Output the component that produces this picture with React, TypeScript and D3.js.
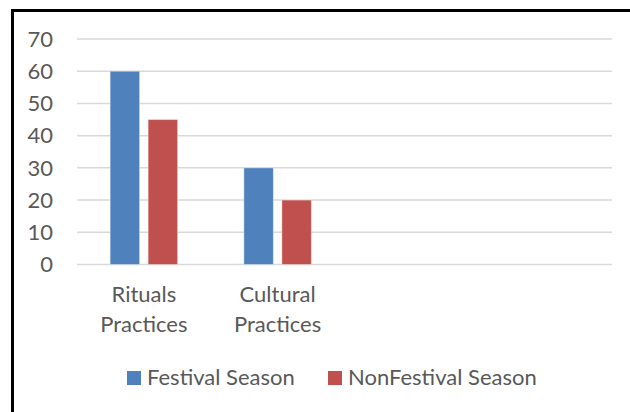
import { useEffect, useRef } from "react";
import * as d3 from "d3";

const categories = ["Rituals Practices", "Cultural Practices", "", ""];
const seriesNames = ["Festival Season", "NonFestival Season"];
const festival = [60, 30];
const nonFestival = [45, 20];
const yTicks = [0, 10, 20, 30, 40, 50, 60, 70];
const colors = ["#4F81BD", "#C0504D"];

const FONT = "Lato, 'Open Sans', sans-serif";
const FS = 22;

export default function App() {
  const ref = useRef<SVGSVGElement>(null);

  useEffect(() => {
    if (!ref.current) return;
    const svg = d3.select(ref.current);
    svg.selectAll("*").remove();

    const width = 630;
    const height = 412;

    svg.append("rect").attr("width", width).attr("height", height).attr("fill", "#fff");

    const x0 = d3.scaleBand<number>()
      .domain(d3.range(categories.length))
      .range([77, 612]);
    const x1 = d3.scaleBand<string>()
      .domain(seriesNames)
      .range([0, x0.bandwidth()])
      .paddingInner(0.2237)
      .paddingOuter(0.8717);
    const y = d3.scaleLinear().domain([0, 70]).range([264.5, 39]);

    // gridlines
    svg.append("g")
      .selectAll("line")
      .data(yTicks)
      .join("line")
      .attr("x1", 77)
      .attr("x2", 612)
      .attr("y1", (d) => y(d))
      .attr("y2", (d) => y(d))
      .attr("stroke", "#d9d9d9")
      .attr("stroke-width", 1.5);

    // y labels
    svg.append("g")
      .selectAll("text")
      .data(yTicks)
      .join("text")
      .attr("x", 53)
      .attr("y", (d) => y(d))
      .attr("dy", "0.35em")
      .attr("text-anchor", "end")
      .attr("fill", "#595959")
      .attr("font-family", FONT)
      .attr("font-size", FS)
      .text((d) => d);

    // bars
    const values = [festival, nonFestival];
    const rows = categories.flatMap((c, i) =>
      seriesNames.map((s, si) => ({ i, s, si, v: values[si][i] }))
    ).filter((d) => d.v !== undefined);

    svg.append("g")
      .selectAll("rect")
      .data(rows)
      .join("rect")
      .attr("x", (d) => (x0(d.i) ?? 0) + (x1(d.s) ?? 0))
      .attr("y", (d) => y(d.v))
      .attr("width", x1.bandwidth())
      .attr("height", (d) => y(0) - y(d.v))
      .attr("fill", (d) => colors[d.si])
      .attr("stroke", "#fff")
      .attr("stroke-opacity", 0.4)
      .attr("stroke-width", 1);

    // category labels
    const cat = svg.append("g")
      .selectAll("text")
      .data(categories.map((c, i) => ({ c, i })).filter((d) => d.c))
      .join("text")
      .attr("x", (d) => (x0(d.i) ?? 0) + x0.bandwidth() / 2)
      .attr("y", 302)
      .attr("text-anchor", "middle")
      .attr("fill", "#595959")
      .attr("font-family", FONT)
      .attr("font-size", FS);
    cat.each(function (d) {
      const words = d.c.split(" ");
      d3.select(this)
        .selectAll("tspan")
        .data(words)
        .join("tspan")
        .attr("x", (x0(d.i) ?? 0) + x0.bandwidth() / 2)
        .attr("dy", (_, k) => (k === 0 ? 0 : 30))
        .text((w) => w);
    });

    // legend
    const legendX = [127, 328];
    const lg = svg.append("g")
      .selectAll("g")
      .data(seriesNames)
      .join("g")
      .attr("transform", (_, i) => `translate(${legendX[i]},371)`);
    lg.append("rect")
      .attr("width", 14)
      .attr("height", 14)
      .attr("fill", (_, i) => colors[i]);
    lg.append("text")
      .attr("x", 20)
      .attr("y", 14)
      .attr("fill", "#595959")
      .attr("font-family", FONT)
      .attr("font-size", FS)
      .text((d) => d);

    // frame
    svg.append("rect").attr("x", 11).attr("y", 9).attr("width", 3).attr("height", height - 9).attr("fill", "#000");
    svg.append("rect").attr("x", 11).attr("y", 9).attr("width", width - 11).attr("height", 3).attr("fill", "#000");
  }, []);

  return (
    <div style={{ position: "absolute", left: 0, top: 0 }}>
      <svg ref={ref} width={630} height={412} style={{ display: "block" }} />
    </div>
  );
}
